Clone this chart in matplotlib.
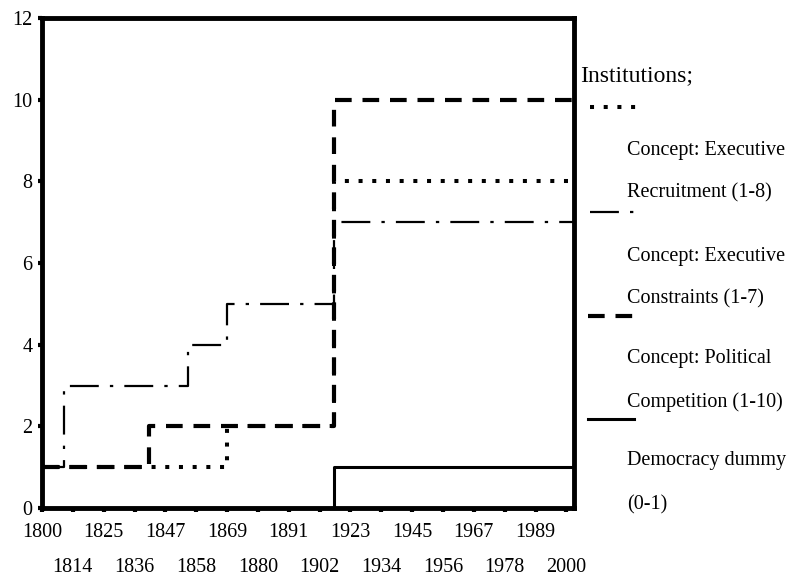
import numpy as np
import matplotlib
matplotlib.use("Agg")
import matplotlib.pyplot as plt
from matplotlib.lines import Line2D

# ---- data ----
label_years = [1800, 1814, 1825, 1836, 1847, 1858, 1869, 1880, 1891, 1902,
               1923, 1934, 1945, 1956, 1967, 1978, 1989, 2000]
y_ticks = [0, 2, 4, 6, 8, 10, 12]

end_year = 2002.7

recruit_years = [1800, 1869, 1912, end_year]
recruit_vals = [1, 2, 8, 8]

constraints_years = [1800, 1810, 1855, 1869, 1912, end_year]
constraints_vals = [1, 3, 4, 5, 7, 7]

competition_years = [1800, 1841, 1912, end_year]
competition_vals = [1, 2, 10, 10]

democracy_years = [1800, 1912, end_year]
democracy_vals = [0, 1, 1]

legend_title = "Institutions;"
legend_lines = [
    ("Concept: Executive", "Recruitment (1-8)"),
    ("Concept: Executive", "Constraints (1-7)"),
    ("Concept: Political", "Competition (1-10)"),
    ("Democracy dummy", "(0-1)"),
]

# ---- category-like x scale (labelled years are evenly spaced) ----
k_years = np.array([1789.0] + label_years + [2011.0])
k_idx = np.array([-1.0] + list(range(len(label_years))) + [len(label_years)])

def fwd(x):
    return np.interp(x, k_years, k_idx)

def inv(i):
    return np.interp(i, k_idx, k_years)

W, H = 795, 579
fig = plt.figure(figsize=(W / 100, H / 100), dpi=100)
serif = ["Liberation Serif", "DejaVu Serif"]
plt.rcParams["font.family"] = serif

ax = fig.add_axes([42 / W, 1 - 508 / H, (574 - 42) / W, (508 - 18) / H])
ax.set_xscale("function", functions=(fwd, inv))

ax.plot(recruit_years, recruit_vals, drawstyle="steps-post", color="black",
        lw=2.9, linestyle=(0, (1, 2.4)), dash_capstyle="butt", zorder=3)
ax.plot(constraints_years, constraints_vals, drawstyle="steps-post", color="black",
        lw=1.6, linestyle=(0, (13, 5, 1.5, 5)), dash_capstyle="butt", zorder=3)
ax.plot(competition_years, competition_vals, drawstyle="steps-post", color="black",
        lw=3.0, linestyle=(0, (4, 2.6)), dash_capstyle="butt", zorder=3)
ax.plot(democracy_years, democracy_vals, drawstyle="steps-post", color="black",
        lw=2.2, linestyle="-", zorder=3)

ax.set_xlim(1800, end_year)
ax.set_ylim(0, 12)

ax.set_yticks(y_ticks)
ax.set_yticklabels([str(v) for v in y_ticks], fontsize=14.5)

major = label_years[0::2]
minor = label_years[1::2]
ax.set_xticks(major)
ax.set_xticklabels([str(v) for v in major], fontsize=14.5)
ax.set_xticks(minor, minor=True)
ax.set_xticklabels([str(v) for v in minor], minor=True, fontsize=14.5)

ax.tick_params(axis="x", which="major", direction="out", length=3, width=3, pad=8)
ax.tick_params(axis="x", which="minor", direction="out", length=3, width=3, pad=33)
ax.tick_params(axis="y", direction="out", length=3, width=3, pad=4)

for s in ax.spines.values():
    s.set_linewidth(3.5)
    s.set_color("black")

# ---- legend drawn to the right ----
def fx(x):
    return x / W

def fy(y):
    return 1 - y / H

fig.text(fx(580), fy(76), legend_title, fontsize=17, va="center", ha="left")
text_rows = [(150, 193), (256, 299), (358, 402), (461, 505)]
for (l1, l2), (y1, y2) in zip(legend_lines, text_rows):
    fig.text(fx(627), fy(y1), l1, fontsize=14.5, va="center", ha="left")
    fig.text(fx(627), fy(y2), l2, fontsize=14.5, va="center", ha="left")

samples = [
    (107, 590, 640, dict(lw=2.9, linestyle=(0, (1, 2.4)), dash_capstyle="butt")),
    (212, 590, 636, dict(lw=1.6, linestyle=(0, (13, 5, 1.5, 5)), dash_capstyle="butt")),
    (316, 588, 634, dict(lw=3.0, linestyle=(0, (4, 2.6)), dash_capstyle="butt")),
    (419, 588, 634, dict(lw=2.2, linestyle="-")),
]
for y, x0, x1, kw in samples:
    fig.add_artist(Line2D([fx(x0), fx(x1)], [fy(y), fy(y)], color="black",
                          transform=fig.transFigure, **kw))

fig.savefig("out.png", dpi=100)
